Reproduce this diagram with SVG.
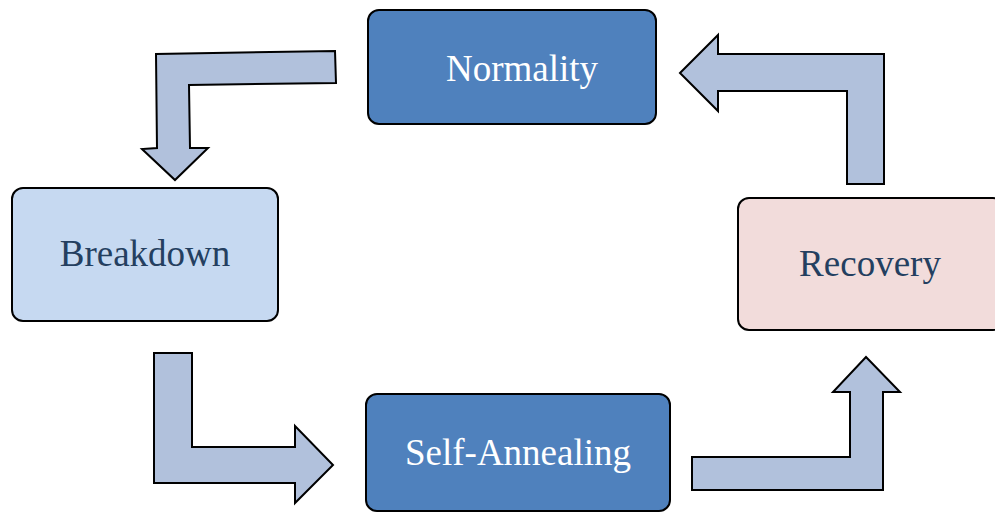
<svg xmlns="http://www.w3.org/2000/svg" width="995" height="512" viewBox="0 0 995 512">
<style>
.box{stroke:#000;stroke-width:2}
.dark{fill:#4F81BD}
.t{font-family:"Liberation Serif","Times New Roman",serif;font-size:37px;text-anchor:middle}
.tw{fill:#FFFFFF}
.td{fill:#243F60}
.arr{fill:#B1C1DC;stroke:#000;stroke-width:2;stroke-linejoin:miter}
</style>
<rect width="995" height="512" fill="#FFFFFF"/>
<g id="normality">
<rect class="box dark" x="368" y="10" width="288" height="114" rx="11"/>
<text class="t tw" x="522" y="81">Normality</text>
</g>
<g id="breakdown">
<rect class="box" fill="#C6D9F1" x="12" y="188" width="266" height="133" rx="11"/>
<text class="t td" x="145" y="266">Breakdown</text>
</g>
<g id="recovery">
<rect class="box" fill="#F2DCDB" x="738" y="198" width="266" height="132" rx="11"/>
<text class="t td" x="870" y="276">Recovery</text>
</g>
<g id="self-annealing">
<rect class="box dark" x="366" y="394" width="304" height="117" rx="11"/>
<text class="t tw" x="518" y="465">Self-Annealing</text>
</g>
<g id="connectors">
<polygon class="arr" points="335,51 336,83 189,85 190,148 208,148 175,180 142,149 157,148 156,54"/>
<polygon class="arr" points="680,73 718,35 718,54 884,54 884,184 847,184 847,91 718,91 718,111"/>
<polygon class="arr" points="154,353 192,353 192,447 295,447 295,426 333,465 295,503 295,483 154,483"/>
<polygon class="arr" points="692,457 850,457 850,392 833,392 866,357 900,392 883,392 883,490 692,490"/>
</g>
</svg>
